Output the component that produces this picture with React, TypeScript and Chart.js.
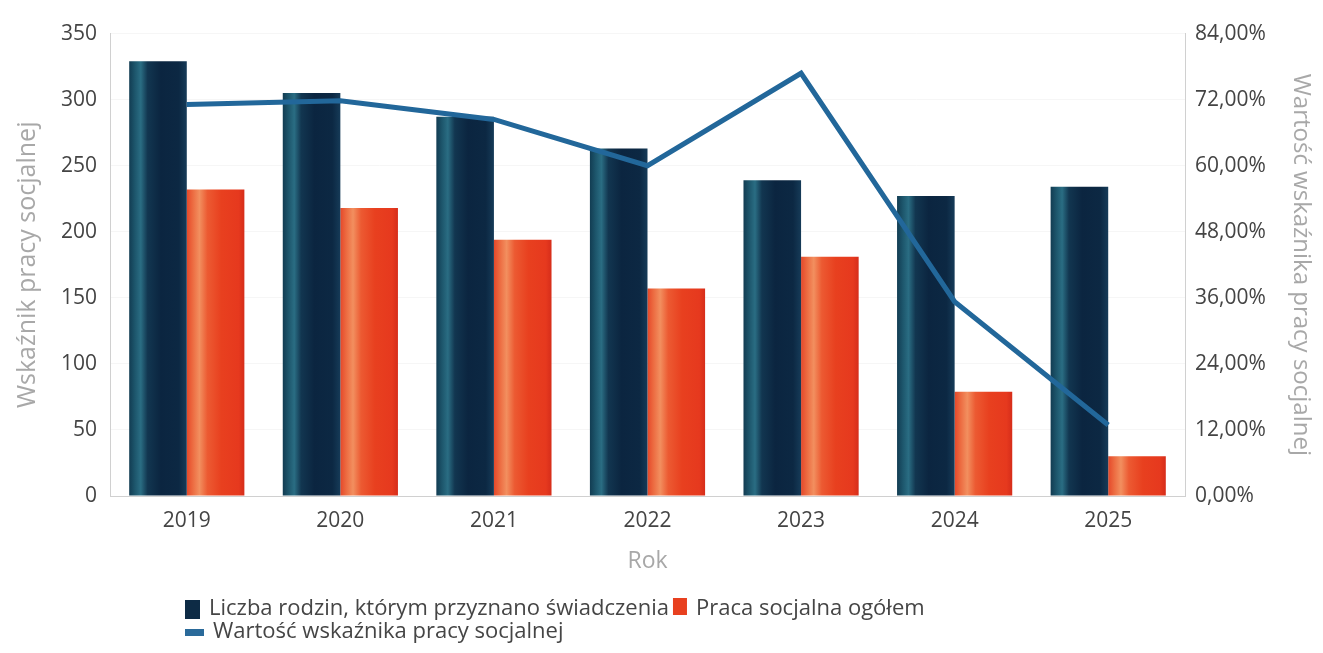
import React, { useEffect, useRef } from "react";
import { Chart, registerables } from "chart.js";

Chart.register(...registerables);

const years = ["2019", "2020", "2021", "2022", "2023", "2024", "2025"];
const familiesGranted = [329, 305, 287, 263, 239, 227, 234];
const socialWorkTotal = [232, 218, 194, 157, 181, 79, 30];
const indicatorPct = [71.1, 71.8, 68.4, 60.0, 76.8, 35.3, 12.9];
const leftTicks = { min: 0, max: 350, step: 50 };
const rightTicks = { min: 0, max: 84, step: 12 };

const SERIES_NAMES = [
  "Liczba rodzin, którym przyznano świadczenia",
  "Praca socjalna ogółem",
  "Wartość wskaźnika pracy socjalnej",
];

const FONT = "'Open Sans', 'Noto Sans', sans-serif";
const CAT_PCT = 0.75;

const navyStops: [number, string][] = [
  [0, "#123c52"],
  [0.1, "#1d566c"],
  [0.2, "#2a6d83"],
  [0.32, "#123650"],
  [0.55, "#0b2540"],
  [0.86, "#0c2843"],
  [1, "#163b58"],
];
const redStops: [number, string][] = [
  [0, "#e5482a"],
  [0.1, "#ec6a40"],
  [0.22, "#f28f5f"],
  [0.36, "#ec5a32"],
  [0.6, "#e8401f"],
  [0.9, "#e6391e"],
  [1, "#d62d1a"],
];

function barFill(side: number, stops: [number, string][], solid: string) {
  return (c: any) => {
    const chart = c.chart;
    const xs = chart.scales && chart.scales.x;
    if (!xs || c.type !== "data") return solid;
    const center = xs.getPixelForValue(c.dataIndex);
    const catW = xs.width / years.length;
    const bw = (catW * CAT_PCT) / 2;
    const x0 = side === 0 ? center - bw : center;
    if (!isFinite(x0) || !isFinite(bw) || bw <= 0) return solid;
    const g = chart.ctx.createLinearGradient(x0, 0, x0 + bw, 0);
    stops.forEach(([o, col]) => g.addColorStop(o, col));
    return g;
  };
}

const legendPlugin = {
  id: "customLegend",
  afterDraw(chart: any) {
    const ctx = chart.ctx;
    ctx.save();
    ctx.font = `22px ${FONT}`;
    ctx.textBaseline = "middle";
    ctx.textAlign = "left";
    const startX = 177;
    // legend order: bar series 1, bar series 2, line
    const rows = [
      { y: 601, items: [1, 2] },
      { y: 624, items: [0] },
    ];
    const boxes: Record<number, any> = {
      1: { w: 15, h: 19, color: "#0d2b45", dy: -9 },
      2: { w: 14, h: 17, color: "#e8401f", dy: -11 },
      0: { w: 19, h: 7, color: "#2a6a9a", dy: -3 },
    };
    rows.forEach((row) => {
      let x = startX;
      row.items.forEach((i) => {
        const b = boxes[i];
        ctx.fillStyle = b.color;
        ctx.fillRect(x, row.y + b.dy, b.w, b.h);
        x += b.w + 9;
        ctx.fillStyle = "#454545";
        const label = chart.data.datasets[i].label;
        ctx.fillText(label, x, row.y);
        x += ctx.measureText(label).width + 4;
      });
    });
    ctx.restore();
  },
};

export default function App() {
  const ref = useRef<HTMLCanvasElement | null>(null);
  useEffect(() => {
    if (!ref.current) return;
    const chart = new Chart(ref.current, {
      type: "bar",
      data: {
        labels: years,
        datasets: [
          {
            type: "line",
            label: SERIES_NAMES[2],
            data: indicatorPct,
            yAxisID: "y1",
            borderColor: "#22679a",
            backgroundColor: "#22679a",
            borderWidth: 5,
            pointRadius: 0,
            tension: 0,
            order: 0,
          } as any,
          {
            type: "bar",
            label: SERIES_NAMES[0],
            data: familiesGranted,
            yAxisID: "y",
            backgroundColor: barFill(0, navyStops, "#0d2b45"),
            categoryPercentage: CAT_PCT,
            barPercentage: 1,
            order: 1,
          },
          {
            type: "bar",
            label: SERIES_NAMES[1],
            data: socialWorkTotal,
            yAxisID: "y",
            backgroundColor: barFill(1, redStops, "#e8401f"),
            categoryPercentage: CAT_PCT,
            barPercentage: 1,
            order: 1,
          },
        ],
      },
      options: {
        animation: false,
        responsive: true,
        maintainAspectRatio: false,
        layout: { padding: { top: 20, bottom: 64, left: 0, right: 0 } },
        plugins: {
          legend: { display: false },
          tooltip: { enabled: false },
        },
        scales: {
          x: {
            grid: { display: false, drawTicks: false },
            border: { display: true, color: "#d0d0d0", width: 1 },
            ticks: { color: "#444", font: { family: FONT, size: 21 }, padding: 12 },
            title: {
              display: true,
              text: "Rok",
              color: "#a8a8a8",
              font: { family: FONT, size: 23 },
              padding: { top: 0, bottom: 6 },
            },
            afterFit: (s: any) => {
              s.height = 85;
            },
          },
          y: {
            position: "left",
            min: leftTicks.min,
            max: leftTicks.max,
            grid: { color: "rgba(0,0,0,0.035)", drawTicks: false },
            border: { display: true, color: "#d0d0d0", width: 1 },
            ticks: {
              stepSize: leftTicks.step,
              color: "#444",
              font: { family: FONT, size: 21 },
              padding: 13,
            },
            title: {
              display: true,
              text: "Wskaźnik pracy socjalnej",
              color: "#a8a8a8",
              font: { family: FONT, size: 25 },
              padding: { top: 5, bottom: 0 },
            },
            afterFit: (s: any) => {
              s.width = 102;
            },
          },
          y1: {
            position: "right",
            min: rightTicks.min,
            max: rightTicks.max,
            grid: { display: false, drawTicks: false },
            border: { display: true, color: "#d0d0d0", width: 1 },
            ticks: {
              stepSize: rightTicks.step,
              color: "#444",
              font: { family: FONT, size: 21 },
              padding: 10,
              callback: (v: any) => Number(v).toFixed(2).replace(".", ",") + "%",
            },
            title: {
              display: true,
              text: "Wartość wskaźnika pracy socjalnej",
              color: "#a8a8a8",
              font: { family: FONT, size: 24 },
              padding: { top: 0, bottom: 0 },
            },
            afterFit: (s: any) => {
              s.width = 130;
            },
          },
        },
      },
      plugins: [legendPlugin],
    });
    return () => chart.destroy();
  }, []);
  return (
    <div style={{ position: "relative", width: 1307, height: 637 }}>
      <canvas ref={ref} />
    </div>
  );
}
